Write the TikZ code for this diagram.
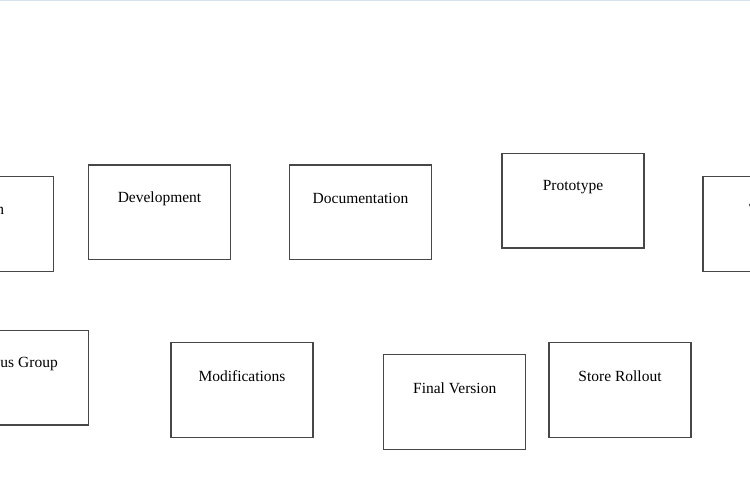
\documentclass[tikz,border=0pt]{standalone}
\usepackage{fontspec}
\setmainfont{Liberation Serif}
\usepackage{tikz,color}

\begin{document}
\begin{tikzpicture}[x=1pt,y=-1pt,
  stage/.style={draw=black!72,line width=1.2pt,minimum width=142pt,minimum height=94.5pt,inner sep=0pt},
  stagetext/.style={font=\fontsize{15.5}{18}\selectfont,inner sep=0pt}]
\useasboundingbox (0,0) rectangle (750,500);
\clip (0,0) rectangle (750,500);
\fill[white] (0,0) rectangle (750,500);
\draw[color={rgb,255:red,214;green,226;blue,238},line width=1.5pt] (0,0.75) -- (750,0.75);

% top row
\node [stage] (design) at (-17.9,223.9) {};
\node [stagetext] (designtxt) at ([yshift=-35pt]design.north) {Design};
\node [stage] (dev) at (159.5,212.2) {};
\node [stagetext] (devtxt) at ([yshift=-34pt]dev.north) {Development};
\node [stage] (doc) at (360.5,212.2) {};
\node [stagetext] (doctxt) at ([yshift=-34pt]doc.north) {Documentation};
\node [stage] (proto) at (573,200.7) {};
\node [stagetext] (prototxt) at ([yshift=-34pt]proto.north) {Prototype};
\node [stage] (testing) at (774,223.9) {};
\node [stagetext,anchor=west] (testingtxt) at ([xshift=-25pt,yshift=-35pt]testing.north) {Testing};

% bottom row
\node [stage] (focus) at (17.5,377.7) {};
\node [stagetext] (focustxt) at ([yshift=-34pt]focus.north) {Focus Group};
\node [stage] (mods) at (242,390) {};
\node [stagetext] (modstxt) at ([yshift=-34pt]mods.north) {Modifications};
\node [stage] (final) at (454.7,402) {};
\node [stagetext] (finaltxt) at ([yshift=-34pt]final.north) {Final Version};
\node [stage] (store) at (620,390) {};
\node [stagetext] (storetxt) at ([yshift=-34pt]store.north) {Store Rollout};

\end{tikzpicture}
\end{document}
